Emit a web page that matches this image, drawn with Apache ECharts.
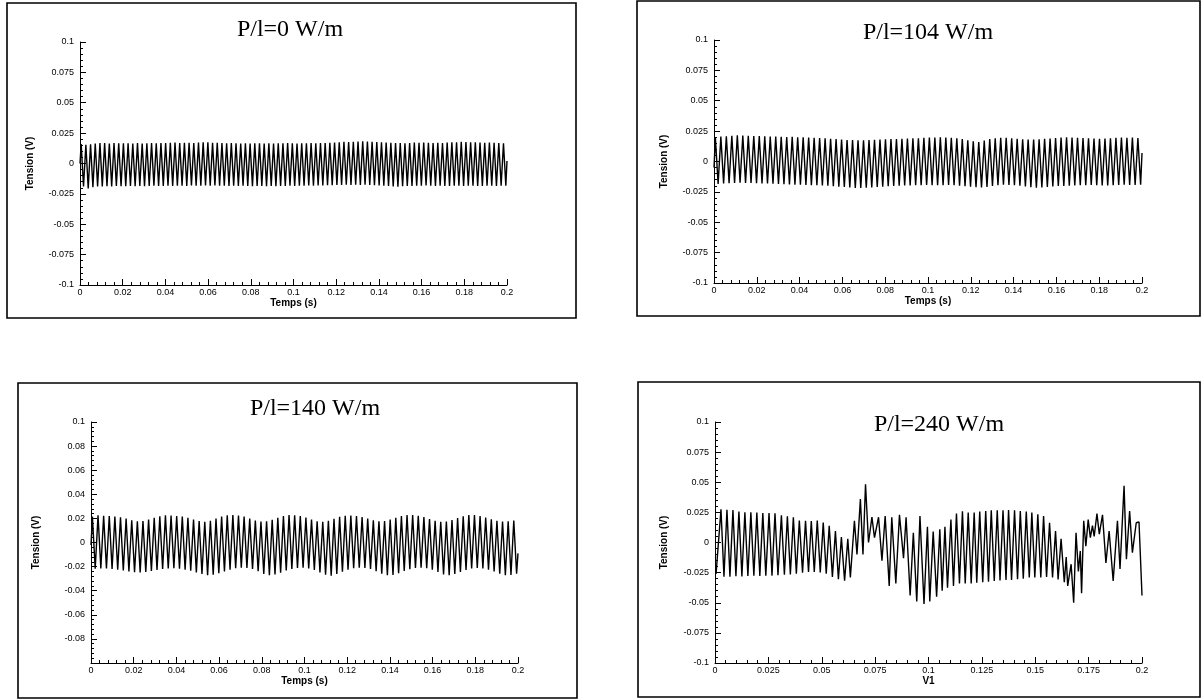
<!DOCTYPE html>
<html>
<head>
<meta charset="utf-8">
<script src="https://cdn.jsdelivr.net/npm/echarts@6/dist/echarts.min.js"></script>
<style>
html, body { margin: 0; padding: 0; background: #fff; }
#chart { width: 1203px; height: 699px; }
</style>
</head>
<body>
<div id="chart"></div>
<script>
// panel titles
var titles = ['P/l=0 W/m', 'P/l=104 W/m', 'P/l=140 W/m', 'P/l=240 W/m'];
var xNames = ['Temps (s)', 'Temps (s)', 'Temps (s)', 'V1'];

// P/l=0 : 91 oscillations over 0.2 s, peak and trough of each cycle (V)
var peaks0 = [
  0.016, 0.0155, 0.0158, 0.0165, 0.0168, 0.0168, 0.0165, 0.0168, 0.0166, 0.0166,
  0.0167, 0.0164, 0.0168, 0.0165, 0.0167, 0.0168, 0.0167, 0.0169, 0.0168, 0.017,
  0.0172, 0.0168, 0.017, 0.0171, 0.0168, 0.0172, 0.0175, 0.0174, 0.017, 0.0171,
  0.0168, 0.0166, 0.0168, 0.0167, 0.0165, 0.0166, 0.0165, 0.0167, 0.0166, 0.0164,
  0.0166, 0.0165, 0.0167, 0.0166, 0.0168, 0.0166, 0.0165, 0.0167, 0.0166, 0.0168,
  0.0167, 0.0169, 0.0168, 0.017, 0.0172, 0.0175, 0.0178, 0.0176, 0.0178, 0.018,
  0.0182, 0.0181, 0.0178, 0.0176, 0.0174, 0.0172, 0.017, 0.0168, 0.0169, 0.0167,
  0.0168, 0.0172, 0.017, 0.0173, 0.0171, 0.0169, 0.017, 0.0168, 0.0172, 0.0174,
  0.0175, 0.0178, 0.0176, 0.0174, 0.0175, 0.0173, 0.017, 0.0172, 0.0171, 0.0168, 0.0166
];
var troughs0 = [
  -0.019, -0.0205, -0.0195, -0.019, -0.0188, -0.0186, -0.0188, -0.0185, -0.0187, -0.0186,
  -0.0185, -0.0187, -0.0184, -0.0186, -0.0185, -0.0183, -0.0185, -0.0184, -0.0182, -0.0184,
  -0.0183, -0.0182, -0.0184, -0.0181, -0.0183, -0.0182, -0.018, -0.0182, -0.0181, -0.0183,
  -0.0182, -0.0184, -0.0183, -0.0185, -0.0183, -0.0184, -0.0186, -0.0185, -0.0184, -0.0186,
  -0.0185, -0.0186, -0.0184, -0.0185, -0.0183, -0.0184, -0.0182, -0.0183, -0.0181, -0.0182,
  -0.018, -0.0181, -0.0179, -0.0178, -0.0177, -0.0176, -0.0175, -0.0176, -0.0174, -0.0176,
  -0.0175, -0.0177, -0.0178, -0.018, -0.0182, -0.0185, -0.0188, -0.0192, -0.0187, -0.0185,
  -0.0184, -0.0182, -0.0183, -0.0181, -0.0182, -0.0184, -0.0183, -0.0185, -0.0184, -0.0182,
  -0.0183, -0.0184, -0.0182, -0.0183, -0.0185, -0.0184, -0.0183, -0.0182, -0.0184, -0.0183, -0.0182
];
var ends0 = [0.0, 0.002];

// P/l=104 : 78 oscillations
var peaks104 = [
  0.0198, 0.0205, 0.0208, 0.0212, 0.0215, 0.0213, 0.0211, 0.021, 0.0209, 0.0207,
  0.0206, 0.0205, 0.0204, 0.0202, 0.0203, 0.02, 0.0199, 0.0197, 0.0195, 0.0193,
  0.019, 0.0186, 0.0184, 0.018, 0.0177, 0.0176, 0.0175, 0.0174, 0.0176, 0.0178,
  0.018, 0.0182, 0.0184, 0.0185, 0.0187, 0.0189, 0.019, 0.0192, 0.0195, 0.0197,
  0.0198, 0.0199, 0.0198, 0.0195, 0.019, 0.0184, 0.0175, 0.0167, 0.016, 0.0172,
  0.0185, 0.0192, 0.0196, 0.0195, 0.019, 0.0186, 0.0182, 0.018, 0.0181, 0.0183,
  0.0186, 0.019, 0.0194, 0.0197, 0.0199, 0.0198, 0.0196, 0.0193, 0.019, 0.0188,
  0.0187, 0.0189, 0.0192, 0.0195, 0.0197, 0.0196, 0.0198, 0.0194
];
var troughs104 = [
  -0.0185, -0.018, -0.0178, -0.0176, -0.0175, -0.0176, -0.0177, -0.0178, -0.018, -0.0181,
  -0.0183, -0.0185, -0.0187, -0.0189, -0.019, -0.0192, -0.0194, -0.0195, -0.0196, -0.0198,
  -0.02, -0.0203, -0.0207, -0.021, -0.0214, -0.0217, -0.0218, -0.0216, -0.0213, -0.021,
  -0.0207, -0.0204, -0.0202, -0.02, -0.0198, -0.0197, -0.0196, -0.0195, -0.0194, -0.0195,
  -0.0196, -0.0195, -0.0194, -0.0196, -0.0199, -0.0204, -0.0208, -0.0212, -0.0214, -0.021,
  -0.0202, -0.0196, -0.0192, -0.0193, -0.0196, -0.02, -0.0206, -0.0212, -0.0216, -0.0214,
  -0.021, -0.0205, -0.0202, -0.0201, -0.02, -0.0198, -0.0196, -0.0195, -0.0194, -0.0196,
  -0.0198, -0.0197, -0.0195, -0.0193, -0.0192, -0.0194, -0.0193, -0.0192
];
var ends104 = [-0.005, 0.007];

// P/l=140 : 76 oscillations with a slow beat
var peaks140 = [
  0.0215, 0.0225, 0.0222, 0.022, 0.0215, 0.021, 0.0198, 0.0185, 0.0175, 0.0178, 0.019,
  0.0205, 0.0218, 0.0225, 0.0224, 0.022, 0.0215, 0.0205, 0.019, 0.0178, 0.0172, 0.018,
  0.0198, 0.0215, 0.0226, 0.0228, 0.0224, 0.0215, 0.0198, 0.0182, 0.0174, 0.0176, 0.0188,
  0.0205, 0.022, 0.0228, 0.0226, 0.022, 0.0208, 0.019, 0.0176, 0.0172, 0.018, 0.0196,
  0.0213, 0.0222, 0.0224, 0.022, 0.0212, 0.0198, 0.0184, 0.0176, 0.0178, 0.019, 0.0205,
  0.022, 0.0228, 0.0228, 0.0222, 0.0212, 0.0195, 0.018, 0.0172, 0.0174, 0.0186, 0.0202,
  0.0218, 0.0228, 0.0227, 0.022, 0.0208, 0.0192, 0.018, 0.0174, 0.0176, 0.0182
];
var troughs140 = [
  -0.0218, -0.0215, -0.0216, -0.022, -0.0225, -0.0232, -0.024, -0.0246, -0.0248, -0.0244, -0.0236,
  -0.0228, -0.022, -0.0215, -0.0214, -0.0218, -0.0225, -0.0235, -0.0248, -0.0262, -0.0272, -0.0268,
  -0.0255, -0.024, -0.0225, -0.0214, -0.021, -0.0212, -0.022, -0.0238, -0.0262, -0.0272, -0.0266,
  -0.025, -0.0232, -0.022, -0.0212, -0.021, -0.0215, -0.0228, -0.0248, -0.0268, -0.0275, -0.0262,
  -0.0242, -0.0225, -0.0214, -0.021, -0.0212, -0.022, -0.0238, -0.0258, -0.0272, -0.027, -0.0255,
  -0.0236, -0.0222, -0.0212, -0.021, -0.0214, -0.0225, -0.0245, -0.0265, -0.0272, -0.0262, -0.0245,
  -0.0228, -0.0216, -0.0212, -0.0215, -0.0225, -0.024, -0.026, -0.0272, -0.027, -0.0258
];
var ends140 = [-0.002, -0.009];

// P/l=240 : irregular signal, turning points read one by one
var time240 = [
  0.0005, 0.0028, 0.0042, 0.0056, 0.0070, 0.0084, 0.0098, 0.0112, 0.0126, 0.0140,
  0.0154, 0.0168, 0.0182, 0.0196, 0.0210, 0.0224, 0.0238, 0.0253, 0.0267, 0.0281,
  0.0295, 0.0311, 0.0325, 0.0339, 0.0353, 0.0367, 0.0381, 0.0395, 0.0410, 0.0424,
  0.0438, 0.0451, 0.0465, 0.0479, 0.0493, 0.0507, 0.0521, 0.0535, 0.0550, 0.0564,
  0.0578, 0.0592, 0.0607, 0.0622, 0.0634, 0.0653, 0.0665, 0.0681, 0.0693, 0.0705,
  0.0719, 0.0735, 0.0747, 0.0766, 0.0782, 0.0797, 0.0816, 0.0828, 0.0847, 0.0864,
  0.0883, 0.0895, 0.0914, 0.0929, 0.0945, 0.0960, 0.0979, 0.0995, 0.1006, 0.1022,
  0.1038, 0.1053, 0.1064, 0.1077, 0.1089, 0.1105, 0.1117, 0.1131, 0.1145, 0.1159,
  0.1172, 0.1186, 0.1200, 0.1214, 0.1226, 0.1240, 0.1254, 0.1268, 0.1281, 0.1294,
  0.1308, 0.1322, 0.1335, 0.1349, 0.1363, 0.1375, 0.1389, 0.1403, 0.1417, 0.1430,
  0.1444, 0.1458, 0.1472, 0.1484, 0.1498, 0.1512, 0.1526, 0.1539, 0.1553, 0.1567,
  0.1581, 0.1595, 0.1607, 0.1621, 0.1636, 0.1645, 0.1652, 0.1668, 0.1680, 0.1691,
  0.1702, 0.1711, 0.1717, 0.1727, 0.1737, 0.1748, 0.1758, 0.1768, 0.1776, 0.1789,
  0.1800, 0.1815, 0.1831, 0.1846, 0.1865, 0.1885, 0.1897, 0.1916, 0.1927, 0.1942,
  0.1955, 0.1973, 0.1986, 0.2000
];
var volt240 = [
  -0.026, 0.0275, -0.0285, 0.0272, -0.0285, 0.027, -0.028, 0.0258, -0.0282, 0.025,
  -0.0278, 0.025, -0.0276, 0.0248, -0.0278, 0.0245, -0.0276, 0.0245, -0.0275, 0.0243,
  -0.0272, 0.0225, -0.0268, 0.0218, -0.0266, 0.021, -0.026, 0.0182, -0.025, 0.018,
  -0.0245, 0.0178, -0.0245, 0.0182, -0.0248, 0.0165, -0.0258, 0.0138, -0.0285, 0.0095,
  -0.0305, 0.0045, -0.0318, 0.003, -0.029, 0.018, -0.01, 0.036, -0.01, 0.0483,
  0.0, 0.021, 0.004, 0.021, -0.015, 0.022, -0.036, 0.021, -0.034, 0.023,
  -0.013, 0.021, -0.044, 0.008, -0.049, 0.022, -0.051, 0.013, -0.049, 0.009,
  -0.045, 0.011, -0.04, 0.013, -0.0376, 0.019, -0.036, 0.024, -0.034, 0.026,
  -0.034, 0.0248, -0.034, 0.0248, -0.0334, 0.0256, -0.033, 0.0262, -0.0325, 0.0267,
  -0.032, 0.0267, -0.0315, 0.0267, -0.031, 0.027, -0.031, 0.0267, -0.0305, 0.0262,
  -0.03, 0.0256, -0.029, 0.0248, -0.029, 0.0234, -0.029, 0.022, -0.0286, 0.0164,
  -0.029, 0.0095, -0.0306, 0.003, -0.033, -0.012, -0.036, -0.018, -0.05, 0.008,
  -0.024, -0.007, -0.042, 0.018, -0.003, 0.019, 0.004, 0.014, 0.005, 0.024,
  0.007, 0.023, -0.017, 0.0095, -0.032, 0.018, -0.022, 0.047, -0.0138, 0.026,
  -0.0084, 0.0164, 0.017, -0.044
];

function wave(peaks, troughs, ends) {
  var cyc = 0.2 / peaks.length;
  var out = [[0, ends[0]]];
  for (var i = 0; i < peaks.length; i++) {
    out.push([(i + 0.25) * cyc, peaks[i]]);
    out.push([(i + 0.75) * cyc, troughs[i]]);
  }
  out.push([0.2, ends[1]]);
  return out;
}

var data240 = time240.map(function (t, i) { return [t, volt240[i]]; });
var seriesData = [
  wave(peaks0, troughs0, ends0),
  wave(peaks104, troughs104, ends104),
  wave(peaks140, troughs140, ends140),
  data240
];

var grids = [
  { left: 80, top: 42, width: 427, height: 243 },
  { left: 714, top: 40, width: 428, height: 243 },
  { left: 91, top: 422, width: 427, height: 241 },
  { left: 715, top: 422, width: 427, height: 241 }
];
var boxes = [
  [7, 3, 569, 315],
  [637, 1, 563, 315],
  [18, 383, 559, 315],
  [638, 382, 562, 315]
];
var titlePos = [[285, 13], [923, 16], [310, 392], [934, 408]];
var yNameGap = [45, 45, 50, 46];
var xInterval = [0.02, 0.02, 0.02, 0.025];
var yInterval = [0.025, 0.025, 0.02, 0.025];

var sans = 'Liberation Sans';
var chart = echarts.init(document.getElementById('chart'));

var option = {
  animation: false,
  backgroundColor: '#fff',
  title: titles.map(function (t, i) {
    return {
      text: t, left: titlePos[i][0], top: titlePos[i][1], textAlign: 'center',
      textStyle: { fontFamily: 'Liberation Serif', fontWeight: 'normal', fontSize: 24, color: '#000' }
    };
  }),
  graphic: boxes.map(function (b) {
    return {
      type: 'rect', silent: true,
      shape: { x: b[0], y: b[1], width: b[2], height: b[3] },
      style: { fill: 'none', stroke: '#000', lineWidth: 1.6 }
    };
  }),
  grid: grids,
  xAxis: grids.map(function (g, i) {
    return {
      type: 'value', gridIndex: i, min: 0, max: 0.2, interval: xInterval[i],
      name: xNames[i], nameLocation: 'middle', nameGap: 13,
      nameTextStyle: { fontFamily: sans, fontWeight: 'bold', fontSize: 10, color: '#000' },
      axisLine: { onZero: false, lineStyle: { color: '#000', width: 1 } },
      axisTick: { inside: true, length: 6, lineStyle: { color: '#000' } },
      minorTick: { show: true, splitNumber: 5, length: 3, lineStyle: { color: '#000' } },
      axisLabel: { margin: 3, fontFamily: sans, fontSize: 9, color: '#000' },
      splitLine: { show: false }
    };
  }),
  yAxis: grids.map(function (g, i) {
    return {
      type: 'value', gridIndex: i, min: -0.1, max: 0.1, interval: yInterval[i],
      name: 'Tension (V)', nameLocation: 'middle', nameRotate: 90, nameGap: yNameGap[i],
      nameTextStyle: { fontFamily: sans, fontWeight: 'bold', fontSize: 10, color: '#000' },
      axisLine: { onZero: false, lineStyle: { color: '#000', width: 1 } },
      axisTick: { inside: true, length: 6, lineStyle: { color: '#000' } },
      minorTick: { show: true, splitNumber: 5, length: 3, lineStyle: { color: '#000' } },
      axisLabel: { margin: 6, showMinLabel: i !== 2, fontFamily: sans, fontSize: 9, color: '#000' },
      splitLine: { show: false }
    };
  }),
  series: seriesData.map(function (d, i) {
    return {
      type: 'line', xAxisIndex: i, yAxisIndex: i, data: d,
      showSymbol: false, symbol: 'none',
      lineStyle: { color: '#000', width: 1.4 }
    };
  })
};

chart.setOption(option);
</script>
</body>
</html>
